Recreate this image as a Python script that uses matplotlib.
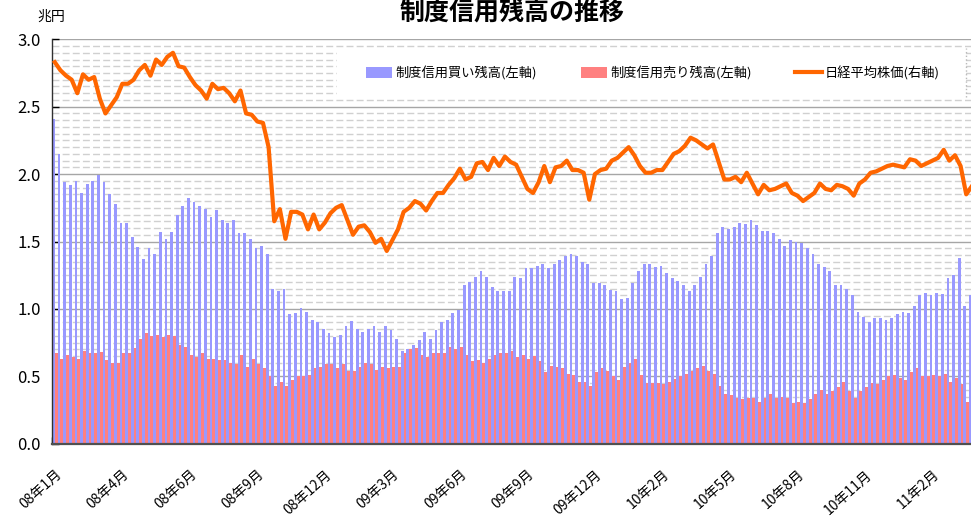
import numpy as np
import matplotlib
matplotlib.use('Agg')
import matplotlib.pyplot as plt
from matplotlib.patches import Patch, Rectangle
from matplotlib.lines import Line2D
from matplotlib.ticker import MultipleLocator

plt.rcParams['font.family'] = ['Noto Sans CJK JP', 'DejaVu Sans']
plt.rcParams['lines.scale_dashes'] = False

# 週次データ（兆円）
buy = [2.41, 2.15, 1.94, 1.92, 1.95, 1.86, 1.93, 1.95, 1.99, 1.94,
       1.85, 1.78, 1.64, 1.64, 1.53, 1.46, 1.37, 1.45, 1.41, 1.57,
       1.52, 1.57, 1.70, 1.76, 1.82, 1.79, 1.76, 1.74, 1.68, 1.73,
       1.66, 1.64, 1.66, 1.56, 1.56, 1.52, 1.45, 1.47, 1.41, 1.15,
       1.13, 1.15, 0.96, 0.97, 1.01, 0.98, 0.92, 0.90, 0.85, 0.82,
       0.79, 0.81, 0.87, 0.91, 0.85, 0.83, 0.85, 0.87, 0.83, 0.87,
       0.84, 0.78, 0.69, 0.70, 0.73, 0.77, 0.83, 0.78, 0.84, 0.90,
       0.92, 0.97, 0.99, 1.18, 1.20, 1.24, 1.28, 1.24, 1.16, 1.13,
       1.13, 1.13, 1.24, 1.23, 1.30, 1.30, 1.32, 1.33, 1.30, 1.33,
       1.36, 1.39, 1.41, 1.39, 1.35, 1.33, 1.19, 1.19, 1.18, 1.14,
       1.13, 1.07, 1.08, 1.19, 1.28, 1.33, 1.33, 1.31, 1.32, 1.27,
       1.23, 1.21, 1.18, 1.13, 1.18, 1.24, 1.33, 1.39, 1.56, 1.61,
       1.59, 1.61, 1.64, 1.63, 1.66, 1.62, 1.58, 1.58, 1.56, 1.52,
       1.47, 1.51, 1.50, 1.49, 1.45, 1.41, 1.33, 1.31, 1.28, 1.18,
       1.18, 1.15, 1.10, 0.98, 0.94, 0.90, 0.93, 0.93, 0.92, 0.93,
       0.96, 0.98, 0.97, 1.02, 1.10, 1.12, 1.10, 1.12, 1.11, 1.23,
       1.25, 1.38, 1.02, 1.10]

sell = [0.67, 0.63, 0.66, 0.64, 0.63, 0.69, 0.67, 0.67, 0.68, 0.62,
        0.60, 0.60, 0.67, 0.67, 0.71, 0.78, 0.82, 0.80, 0.81, 0.79,
        0.81, 0.80, 0.73, 0.72, 0.66, 0.64, 0.67, 0.63, 0.63, 0.62,
        0.62, 0.60, 0.59, 0.66, 0.57, 0.63, 0.59, 0.56, 0.50, 0.43,
        0.46, 0.43, 0.47, 0.50, 0.50, 0.51, 0.56, 0.57, 0.59, 0.59,
        0.56, 0.59, 0.54, 0.54, 0.57, 0.60, 0.59, 0.55, 0.57, 0.56,
        0.57, 0.57, 0.67, 0.70, 0.71, 0.66, 0.64, 0.67, 0.67, 0.67,
        0.72, 0.70, 0.72, 0.66, 0.61, 0.62, 0.60, 0.63, 0.66, 0.67,
        0.67, 0.69, 0.64, 0.66, 0.63, 0.65, 0.61, 0.53, 0.58, 0.57,
        0.56, 0.52, 0.51, 0.46, 0.46, 0.43, 0.53, 0.56, 0.54, 0.50,
        0.47, 0.57, 0.60, 0.63, 0.51, 0.45, 0.45, 0.45, 0.44, 0.46,
        0.48, 0.50, 0.52, 0.54, 0.56, 0.58, 0.54, 0.52, 0.43, 0.37,
        0.36, 0.34, 0.33, 0.34, 0.34, 0.31, 0.34, 0.37, 0.34, 0.35,
        0.34, 0.30, 0.31, 0.30, 0.33, 0.37, 0.40, 0.37, 0.39, 0.42,
        0.46, 0.39, 0.34, 0.39, 0.42, 0.45, 0.44, 0.47, 0.50, 0.51,
        0.49, 0.47, 0.53, 0.56, 0.50, 0.50, 0.51, 0.50, 0.52, 0.46,
        0.49, 0.44, 0.31]

# 日経平均（左軸の目盛りに換算した読み取り値）
nikkei = [2.83, 2.77, 2.73, 2.70, 2.60, 2.74, 2.70, 2.72, 2.56, 2.45,
          2.51, 2.57, 2.67, 2.67, 2.70, 2.77, 2.81, 2.73, 2.85, 2.81,
          2.87, 2.90, 2.80, 2.79, 2.72, 2.66, 2.62, 2.56, 2.67, 2.63,
          2.64, 2.60, 2.54, 2.62, 2.45, 2.44, 2.39, 2.38, 2.20, 1.65,
          1.74, 1.52, 1.72, 1.72, 1.70, 1.59, 1.70, 1.59, 1.64, 1.71,
          1.75, 1.77, 1.66, 1.55, 1.61, 1.62, 1.57, 1.49, 1.52, 1.43,
          1.51, 1.59, 1.72, 1.75, 1.80, 1.78, 1.73, 1.80, 1.86, 1.86,
          1.92, 1.97, 2.04, 1.96, 1.98, 2.08, 2.09, 2.03, 2.12, 2.06,
          2.13, 2.09, 2.07, 1.98, 1.89, 1.86, 1.94, 2.06, 1.94, 2.05,
          2.06, 2.10, 2.03, 2.03, 2.01, 1.81, 2.00, 2.03, 2.04, 2.10,
          2.12, 2.16, 2.20, 2.14, 2.06, 2.01, 2.01, 2.03, 2.03, 2.09,
          2.15, 2.17, 2.21, 2.27, 2.25, 2.22, 2.19, 2.22, 2.09, 1.96,
          1.96, 1.98, 1.94, 2.01, 1.93, 1.85, 1.92, 1.88, 1.89, 1.91,
          1.93, 1.86, 1.84, 1.80, 1.83, 1.86, 1.93, 1.89, 1.88, 1.92,
          1.91, 1.89, 1.84, 1.93, 1.96, 2.01, 2.02, 2.04, 2.06, 2.07,
          2.06, 2.05, 2.11, 2.10, 2.06, 2.08, 2.10, 2.12, 2.18, 2.10,
          2.14, 2.06, 1.85, 1.91]

# 12週ごとのラベル
tick_labels = ['08年1月', '08年4月', '08年6月', '08年9月', '08年12月',
               '09年3月', '09年6月', '09年9月', '09年12月', '10年2月',
               '10年5月', '10年8月', '10年11月', '11年2月']

legend_labels = ['制度信用買い残高(左軸)', '制度信用売り残高(左軸)', '日経平均株価(右軸)']

c_buy = '#9999FF'
c_sell = '#FF8080'
c_line = '#FF6600'

fig = plt.figure(figsize=(9.71, 5.16), dpi=100)
ax = fig.add_axes([52 / 971, 1 - 443.7 / 516, 919 / 971, 404.4 / 516])

x = np.arange(len(buy))
xs = np.arange(len(sell))
ax.bar(x - 0.25, buy, width=0.5, color=c_buy, linewidth=0, zorder=2)
ax.bar(xs + 0.25, sell, width=0.5, color=c_sell, linewidth=0, zorder=2)
ax.plot(np.arange(len(nikkei)), nikkei, color=c_line, linewidth=3, zorder=4)

ax.set_xlim(-0.5, 162.85)
ax.set_ylim(0, 3)

# y軸
ax.yaxis.set_major_locator(MultipleLocator(0.5))
ax.yaxis.set_minor_locator(MultipleLocator(0.05))
ax.set_yticklabels(['%.1f' % v for v in ax.get_yticks()])
ax.tick_params(axis='y', which='major', direction='in', length=5, width=1,
               labelsize=12, pad=8)
ax.tick_params(axis='y', which='minor', length=0)
ax.grid(axis='y', which='major', color='#A6A6A6', linewidth=1, linestyle='-')
ax.grid(axis='y', which='minor', color='#D0D0D0', linewidth=1,
        linestyle=(0, (5, 2.3)))
ax.set_axisbelow(True)

# x軸
label_pos = np.arange(len(tick_labels)) * 12
ax.set_xticks(label_pos)
ax.set_xticklabels(tick_labels, rotation=42, ha='right', va='top',
                   rotation_mode='anchor', fontsize=10)
ax.tick_params(axis='x', which='major', length=0, pad=17)
ax.set_xticks(np.arange(0, 168, 6) - 0.5, minor=True)
ax.tick_params(axis='x', which='minor', direction='in', length=5, width=1,
               color='black')

for s in ['top', 'right']:
    ax.spines[s].set_visible(False)
ax.spines['left'].set_color('#303030')
ax.spines['left'].set_linewidth(1)
ax.spines['bottom'].set_color('#505050')
ax.spines['bottom'].set_linewidth(1.6)

# 凡例
y0 = (443.7 - 97) / 404.4
y1 = (443.7 - 48) / 404.4
x0 = (337 - 52) / 919
x1 = (966 - 52) / 919
ax.add_patch(Rectangle((x0, y0), x1 - x0, y1 - y0, transform=ax.transAxes,
                       facecolor='white', edgecolor='none', zorder=3))
ax.plot([x1, x1], [y0, y1], transform=ax.transAxes, color='#BBBBBB',
        linestyle=':', linewidth=1, zorder=3)
handles = [Patch(facecolor=c_buy, edgecolor='none'),
           Patch(facecolor=c_sell, edgecolor='none'),
           Line2D([0], [0], color=c_line, linewidth=3)]
leg = ax.legend(handles, legend_labels, ncol=3, loc='center',
                bbox_to_anchor=(0.654, 0.9167), frameon=False, fontsize=9.5,
                handlelength=2.0, handleheight=1.0, handletextpad=0.25,
                columnspacing=3.3)
leg.set_zorder(6)

fig.text(51 / 971, 1 - 17 / 516, '兆円', ha='center', va='center', fontsize=10)
fig.text(512 / 971, 1 - 1 / 516, '制度信用残高の推移', ha='center',
         va='top', fontsize=18, fontweight='bold')

fig.savefig('out.png', dpi=100)
